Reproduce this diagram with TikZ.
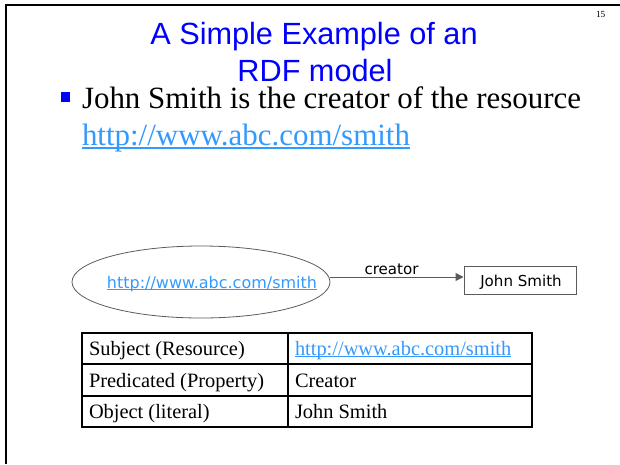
\documentclass[tikz,border=0pt]{standalone}
\usepackage{fontspec}
\setmainfont{Liberation Serif}
\newfontfamily\arialfont{Liberation Sans}
\newfontfamily\comicfont{DejaVu Sans}
\usetikzlibrary{shapes.geometric,arrows.meta}
\definecolor{titleblue}{RGB}{0,0,255}
\definecolor{linkblue}{RGB}{51,153,255}
\definecolor{edgegray}{RGB}{90,90,90}
\newcommand\myul[1]{\setbox0\hbox{#1}\rlap{\rule[-0.12em]{\wd0}{0.055em}}\box0}
\tikzset{
  txt/.style={inner sep=0pt, outer sep=0pt, anchor=base west},
  titletxt/.style={inner sep=0pt, anchor=base, text=titleblue, font=\arialfont\fontsize{23}{27}\selectfont},
  bodytxt/.style={txt, font=\fontsize{23.2}{27}\selectfont},
  celltxt/.style={txt, font=\fontsize{15.3}{18}\selectfont},
  comictxt/.style={inner sep=0pt, font=\comicfont\fontsize{11.3}{13}\selectfont},
  resource/.style={ellipse, draw=edgegray, line width=0.6pt, minimum width=193.5pt, minimum height=54pt, inner sep=0pt},
  literal/.style={rectangle, draw=edgegray, line width=0.75pt, minimum width=84pt, minimum height=21pt, inner sep=0pt},
  conn/.style={draw=edgegray, line width=0.75pt, -{Triangle[length=6pt,width=6pt]}},
  frameline/.style={line width=1.6pt},
}
\begin{document}
\begin{tikzpicture}[x=0.75pt,y=-0.75pt]
\useasboundingbox (0,0) rectangle (620,464);
% slide frame
\draw[frameline] (6,464) -- (6,5) -- (620,5);
% page number
\node[txt, font=\fontsize{7}{8}\selectfont] (pnum) at (596,17) {15};
% title
\node[titletxt] (title1) at (314,44) {A Simple Example of an};
\node[titletxt] (title2) at (315,81) {RDF model};
% bullet
\node[fill=titleblue, inner sep=0pt, minimum size=7pt] (bullet) at (65.5,97) {};
\node[bodytxt] (line1) at (82,108) {John Smith is the creator of the resource};
\node[bodytxt, text=linkblue] (line2) at (82,145) {\myul{http://www.abc.com/smith}};
% graph
\node[resource] (ell) at (201,282) {};
\node[comictxt, anchor=base, text=linkblue, font=\comicfont\fontsize{12}{14}\selectfont] (elltxt) at (212,288) {\myul{http://www.abc.com/smith}};
\node[literal] (box) at (520,280) {};
\node[comictxt, anchor=base] (boxtxt) at (521,286) {John Smith};
\draw[conn] ([yshift=3.75pt]ell.east) -- ([yshift=2.25pt]box.west);
\node[comictxt, anchor=base] (pred) at (391.5,274) {creator};
% table
\draw[line width=1.0pt] (82,364) -- (532,364);
\draw[line width=1.0pt] (82,396) -- (532,396);
\draw[line width=1.5pt] (288,333) -- (288,427);
\draw[line width=1.8pt] (82,333) rectangle (532,427);
\node[celltxt] (c11) at (89,355) {Subject (Resource)};
\node[celltxt, text=linkblue] (c12) at (295,355) {\myul{http://www.abc.com/smith}};
\node[celltxt] (c21) at (89,387) {Predicated (Property)};
\node[celltxt] (c22) at (295,387) {Creator};
\node[celltxt] (c31) at (89,418) {Object (literal)};
\node[celltxt] (c32) at (295,418) {John Smith};
\end{tikzpicture}
\end{document}
